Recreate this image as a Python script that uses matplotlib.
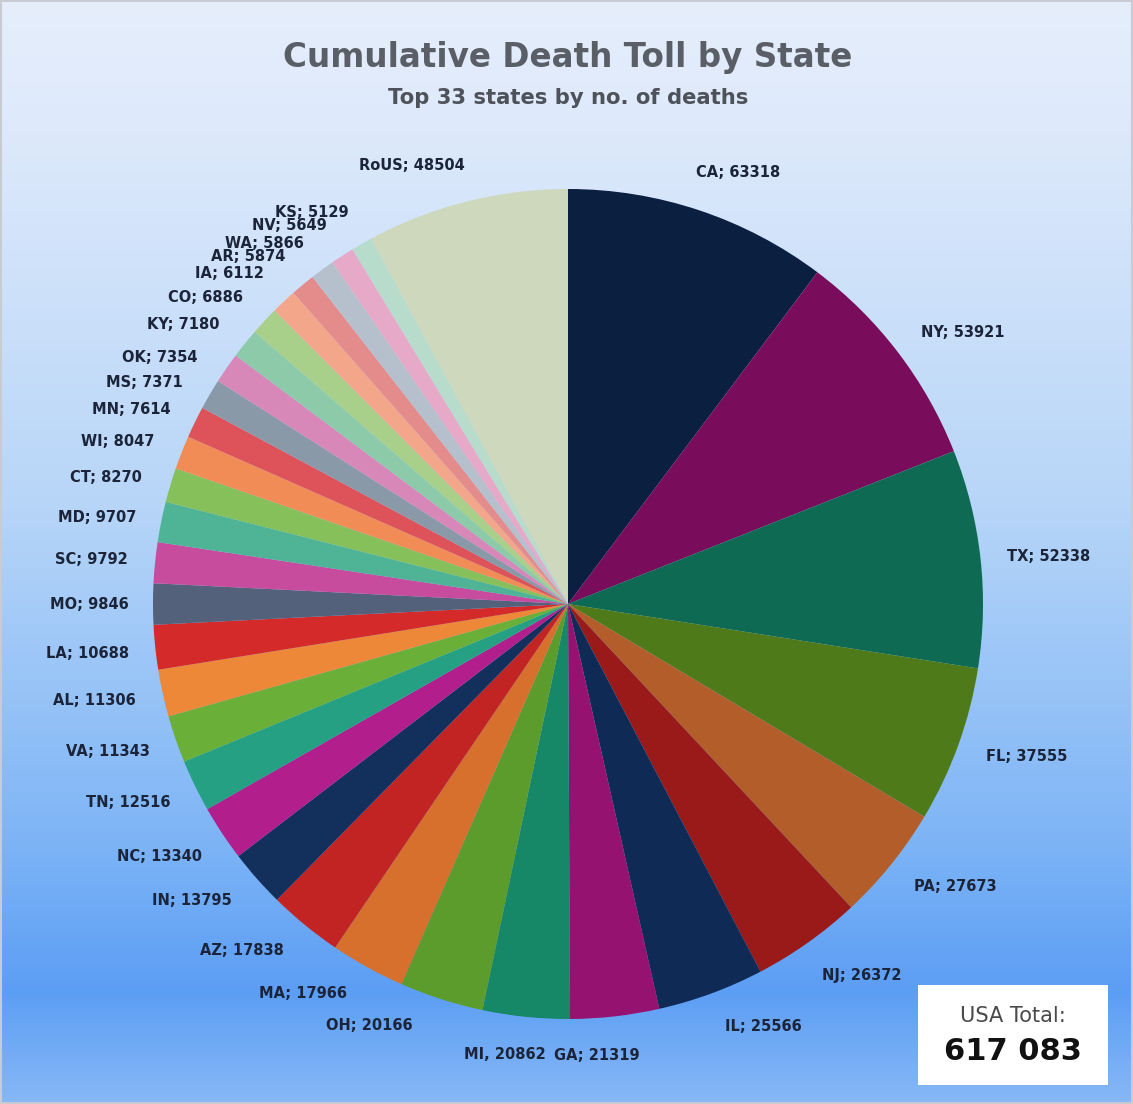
import numpy as np
import matplotlib.pyplot as plt
from matplotlib.colors import LinearSegmentedColormap
from matplotlib.patches import Rectangle

states = ["CA", "NY", "TX", "FL", "PA", "NJ", "IL", "GA", "MI", "OH", "MA", "AZ",
          "IN", "NC", "TN", "VA", "AL", "LA", "MO", "SC", "MD", "CT", "WI", "MN",
          "MS", "OK", "KY", "CO", "IA", "AR", "WA", "NV", "KS", "RoUS"]
deaths = [63318, 53921, 52338, 37555, 27673, 26372, 25566, 21319, 20862, 20166,
          17966, 17838, 13795, 13340, 12516, 11343, 11306, 10688, 9846, 9792,
          9707, 8270, 8047, 7614, 7371, 7354, 7180, 6886, 6112, 5874, 5866,
          5649, 5129, 48504]
colors = ["#0b1f40", "#7a0c5c", "#0e6a52", "#4e7a1a", "#b35e2a", "#9a1a1a",
          "#0e2a55", "#951270", "#168868", "#5c9c2c", "#d6702c", "#c22424",
          "#13305c", "#b21e8c", "#25a082", "#6aaf38", "#ec8838", "#d42a2a",
          "#54617a", "#c84c9e", "#4fb496", "#86c05a", "#f28c56", "#de525a",
          "#8a99a8", "#d888b8", "#8ccaaa", "#a8d08a", "#f4a68a", "#e48c8c",
          "#b6c0cc", "#e6aac8", "#b8dccc", "#cdd8bc"]
# angular shift (degrees) of each data label, to mimic the reference's label layout
label_nudge = [-3, -2.8, -0.7, 1.5, 2.8, 3, 4.6, -2.9, -2.2, -7.5, -5.3, -3.9,
               -3.2, -1.8, -1.7, -1.2, -0.9, -0.1, 0, 0.4, 1, 1.3, 1.6, 2,
               2.75, 3.5, 2.9, 2.8, 2.4, 2.9, 3.8, 3.4, 3.4, 5.5]
total_label = "617 083"

W, H = 1133, 1104
fig = plt.figure(figsize=(W / 100, H / 100), dpi=100)

# gradient background
bg = fig.add_axes([0, 0, 1, 1])
cmap = LinearSegmentedColormap.from_list(
    "bg", [(0.0, "#e6eefc"), (0.12, "#dde9fb"), (0.45, "#b8d6f8"),
           (0.75, "#80b6f6"), (0.9, "#5c9ef4"), (1.0, "#86b8f6")])
grad = np.linspace(0, 1, 256).reshape(-1, 1)
bg.imshow(grad, aspect="auto", cmap=cmap, extent=[0, 1, 0, 1], origin="upper")
bg.add_patch(Rectangle((0.001, 0.001), 0.998, 0.998, fill=False,
                       edgecolor="#c8ccd2", linewidth=1.5, transform=bg.transAxes))
bg.set_xlim(0, 1)
bg.set_ylim(0, 1)
bg.axis("off")

# pie axes
R = 415.0
cx, cy = 568.0, 604.0
lim = 1.3
ax = fig.add_axes([(cx - lim * R) / W, (H - cy - lim * R) / H,
                   2 * lim * R / W, 2 * lim * R / H])

wedges, _ = ax.pie(deaths, colors=colors, startangle=90, counterclock=False,
                   radius=1.0, wedgeprops=dict(linewidth=0))
ax.set_xlim(-lim, lim)
ax.set_ylim(-lim, lim)
ax.set_aspect("auto")
ax.axis("off")

fontsize = 10.5
txtcol = "#1b2438"
for w, s, d, nd in zip(wedges, states, deaths, label_nudge):
    lab = f"{s}, {d}" if s == "MI" else f"{s}; {d}"
    ang = np.deg2rad((w.theta1 + w.theta2) / 2 + nd)
    c, si = np.cos(ang), np.sin(ang)
    w_px = 0.62 * fontsize * len(lab) * 100 / 72
    h_px = 15
    rc = 1.065 + (abs(c) * w_px / 2 + abs(si) * h_px / 2) / R
    ax.text(rc * c, rc * si, lab, ha="center", va="center",
            fontsize=fontsize, fontweight="bold", color=txtcol,
            family="DejaVu Sans", clip_on=False)

# title
fig.text(cx / W, 1 - 58 / H, "Cumulative Death Toll by State", ha="center", va="center",
         fontsize=23.5, fontweight="bold", color="#5a5e66", family="DejaVu Sans")
fig.text(cx / W, 1 - 98 / H, "Top 33 states by no. of deaths", ha="center", va="center",
         fontsize=15.2, fontweight="bold", color="#4e525a", family="DejaVu Sans")

# total box
bx0, by0, bx1, by1 = 918, 985, 1108, 1085
fig.patches.append(Rectangle((bx0 / W, 1 - by1 / H), (bx1 - bx0) / W, (by1 - by0) / H,
                             transform=fig.transFigure, facecolor="white",
                             edgecolor="none", zorder=5))
fig.text((bx0 + bx1) / 2 / W, 1 - 1016 / H, "USA Total:", ha="center", va="center",
         fontsize=15, color="#4a4a4a", family="DejaVu Sans", zorder=6)
fig.text((bx0 + bx1) / 2 / W, 1 - 1052 / H, total_label, ha="center", va="center",
         fontsize=22, fontweight="bold", color="#111111", family="DejaVu Sans", zorder=6)

fig.savefig("out.png", dpi=100)
